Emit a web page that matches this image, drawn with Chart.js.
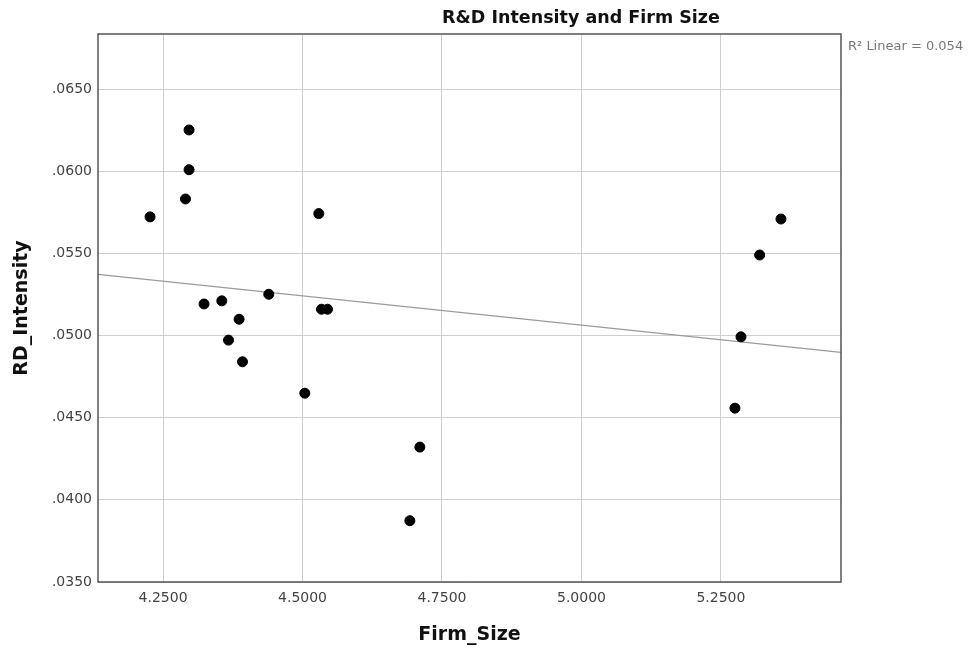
<!DOCTYPE html>
<html>
<head>
<meta charset="utf-8">
<title>R&amp;D Intensity and Firm Size</title>
<script src="https://cdn.jsdelivr.net/npm/chart.js@4"></script>
<style>
  html, body { margin: 0; padding: 0; background: #fff; }
  #wrap { width: 979px; height: 654px; }
</style>
</head>
<body>
<div id="wrap"><canvas id="chart" width="979" height="654"></canvas></div>
<script>
// valores (Firm_Size vs RD_Intensity)
const firmSize = [4.2267, 4.2902, 4.2966, 4.2966, 4.3235, 4.3553, 4.3673, 4.3863, 4.3924, 4.4395,
                  4.5041, 4.5292, 4.5340, 4.5448, 4.6924, 4.7103, 5.2751, 5.2859, 5.3194, 5.3576];
const rdIntensity = [0.05722, 0.05831, 0.06251, 0.06009, 0.05192, 0.05211, 0.04972, 0.05099, 0.04840, 0.05251,
                     0.04649, 0.05742, 0.05160, 0.05160, 0.03873, 0.04321, 0.04558, 0.04992, 0.05490, 0.05709];
const fitX = [4.1334, 5.4652];
const fitY = [0.05372, 0.04898];
// ticks
const xTicks = [4.25, 4.5, 4.75, 5.0, 5.25];
const yTicks = [0.035, 0.040, 0.045, 0.050, 0.055, 0.060, 0.065];
const xRange = [4.1334, 5.4652];
const yRange = [0.035, 0.06835];
const r2Label = 'R\u00B2 Linear = 0.054';

const FONT = "'DejaVu Sans', sans-serif";

// marco, titulo y textos de ejes
const frameAndText = {
  id: 'frameAndText',
  afterDraw(chart) {
    const { ctx, chartArea: a } = chart;
    ctx.save();
    ctx.strokeStyle = '#555';
    ctx.lineWidth = 1.5;
    ctx.strokeRect(a.left, a.top, a.right - a.left, a.bottom - a.top);

    ctx.fillStyle = '#111';
    ctx.textAlign = 'center';
    ctx.textBaseline = 'middle';
    ctx.font = "bold 17.5px " + FONT;
    ctx.fillText('R&D Intensity and Firm Size', 581, 18);

    ctx.font = "bold 19px " + FONT;
    ctx.fillText('Firm_Size', (a.left + a.right) / 2, 635);
    ctx.translate(22, (a.top + a.bottom) / 2);
    ctx.rotate(-Math.PI / 2);
    ctx.fillText('RD_Intensity', 0, 0);
    ctx.restore();

    ctx.save();
    ctx.fillStyle = '#777';
    ctx.font = "13px " + FONT;
    ctx.textAlign = 'left';
    ctx.textBaseline = 'middle';
    ctx.fillText(r2Label, a.right + 7, a.top + 13);
    ctx.restore();
  }
};

new Chart(document.getElementById('chart').getContext('2d'), {
  type: 'scatter',
  data: {
    datasets: [
      {
        label: 'Fit',
        type: 'line',
        data: fitX.map((x, i) => ({ x: x, y: fitY[i] })),
        borderColor: '#9a9a9a',
        borderWidth: 1.3,
        pointRadius: 0,
        fill: false,
        order: 2
      },
      {
        label: 'RD_Intensity',
        data: firmSize.map((x, i) => ({ x: x, y: rdIntensity[i] })),
        backgroundColor: '#000',
        borderColor: '#000',
        pointRadius: 5,
        pointHoverRadius: 5,
        order: 1
      }
    ]
  },
  options: {
    responsive: false,
    animation: false,
    layout: { padding: { left: 0, top: 34, right: 138, bottom: 0 } },
    plugins: { legend: { display: false }, tooltip: { enabled: false }, title: { display: false } },
    scales: {
      x: {
        type: 'linear',
        min: xRange[0], max: xRange[1],
        afterBuildTicks: s => { s.ticks = xTicks.map(v => ({ value: v })); },
        afterFit: s => { s.height = 72; },
        grid: { color: '#cfcfcf', lineWidth: 1, drawTicks: false },
        border: { display: false },
        ticks: {
          padding: 8,
          color: '#444',
          font: { family: FONT, size: 14 },
          callback: v => Number(v).toFixed(4)
        }
      },
      y: {
        type: 'linear',
        min: yRange[0], max: yRange[1],
        afterBuildTicks: s => { s.ticks = yTicks.map(v => ({ value: v })); },
        afterFit: s => { s.width = 98; },
        grid: { color: '#cfcfcf', lineWidth: 1, drawTicks: false },
        border: { display: false },
        ticks: {
          padding: 6,
          color: '#444',
          font: { family: FONT, size: 14 },
          callback: v => Number(v).toFixed(4).replace(/^0/, '')
        }
      }
    }
  },
  plugins: [frameAndText]
});
</script>
</body>
</html>
